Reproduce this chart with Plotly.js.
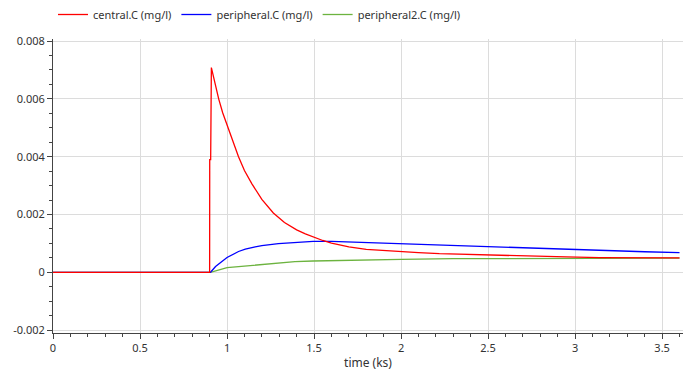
<!DOCTYPE html>
<html>
<head>
<meta charset="utf-8">
<script src="https://cdn.plot.ly/plotly-3.0.1.min.js"></script>
<style>html,body{margin:0;padding:0;background:#fff;}#chart{width:684px;height:371px;}</style>
</head>
<body>
<div id="chart"></div>
<script>
// time in ks
var centralT = [0, 0.9, 0.9005, 0.906, 0.91, 0.93, 0.952, 0.975, 1.0, 1.033, 1.066, 1.10, 1.143, 1.2, 1.266, 1.33, 1.40, 1.45, 1.5, 1.55, 1.6, 1.7, 1.8, 1.9, 2.0, 2.1, 2.22, 2.35, 2.51, 2.65, 2.79, 2.95, 3.14, 3.35, 3.6];
var centralC = [0, 0, 0.0039, 0.0039, 0.00708, 0.00655, 0.0060, 0.00552, 0.0051, 0.00452, 0.0040, 0.00352, 0.00306, 0.00252, 0.00205, 0.00172, 0.00147, 0.00133, 0.00121, 0.00110, 0.00101, 0.00088, 0.00079, 0.000745, 0.00071, 0.00068, 0.000645, 0.00062, 0.00059, 0.00057, 0.00055, 0.00053, 0.00051, 0.000505, 0.00050];

var periphT = [0, 0.905, 0.934, 0.962, 1.0, 1.066, 1.105, 1.162, 1.2, 1.295, 1.39, 1.495, 1.6, 1.8, 2.0, 2.22, 2.51, 2.75, 2.96, 3.2, 3.4, 3.6];
var periphC = [0, 0, 0.00020, 0.00033, 0.00051, 0.00072, 0.00080, 0.00088, 0.00092, 0.00099, 0.00104, 0.00107, 0.00107, 0.00103, 0.00098, 0.00094, 0.00087, 0.00082, 0.00078, 0.00074, 0.00071, 0.00068];

var periph2T = [0, 0.905, 1.0, 1.1, 1.2, 1.3, 1.39, 1.495, 1.7, 2.0, 2.3, 2.6, 3.0, 3.3, 3.6];
var periph2C = [0, 0, 0.00016, 0.00022, 0.00028, 0.00033, 0.00037, 0.00039, 0.00042, 0.00045, 0.00047, 0.00048, 0.00049, 0.00049, 0.00049];

var seriesNames = ['central.C (mg/l)', 'peripheral.C (mg/l)', 'peripheral2.C (mg/l)'];
var xTickVals = [0, 0.5, 1, 1.5, 2, 2.5, 3, 3.5];
var xTickText = ['0', '0.5', '1', '1.5', '2', '2.5', '3', '3.5'];
var yTickVals = [-0.002, 0, 0.002, 0.004, 0.006, 0.008];
var yTickText = ['-0.002', '0', '0.002', '0.004', '0.006', '0.008'];

var colors = ['#ff0000', '#0000ff', '#6cb33f'];
var traces = [
  {x: centralT, y: centralC, name: seriesNames[0]},
  {x: periphT, y: periphC, name: seriesNames[1]},
  {x: periph2T, y: periph2C, name: seriesNames[2]}
].map(function(t, i){
  t.type = 'scatter'; t.mode = 'lines';
  t.line = {color: colors[i], width: 1.3, shape: 'linear'};
  return t;
});
// draw green first so others on top like reference
traces = [traces[2], traces[1], traces[0]];

var font = {family: 'Noto Sans, Open Sans, sans-serif', size: 11, color: '#333'};
var layout = {
  width: 684, height: 371,
  margin: {l: 53, r: 1, t: 38, b: 38},
  paper_bgcolor: '#fff', plot_bgcolor: '#fff',
  font: font,
  showlegend: true,
  legend: {orientation: 'h', x: 0.0, xanchor: 'left', y: 1.13, yanchor: 'top',
           font: font, traceorder: 'reversed', itemwidth: 30},
  xaxis: {
    range: [0, 3.62], tickvals: xTickVals, ticktext: xTickText,
    showgrid: true, gridcolor: '#dcdcdc', gridwidth: 1,
    zeroline: false, showline: true, linecolor: '#444', linewidth: 1,
    ticks: 'outside', ticklen: 5, tickcolor: '#444',
    minor: {dtick: 0.1, tick0: 0, ticks: 'outside', ticklen: 3, tickcolor: '#444', showgrid: false},
    title: {text: 'time (ks)', font: {family: font.family, size: 12, color: '#333'}, standoff: 4},
    tickfont: font
  },
  yaxis: {
    range: [-0.0021, 0.00807], tickvals: yTickVals, ticktext: yTickText,
    showgrid: true, gridcolor: '#dcdcdc', gridwidth: 1,
    zeroline: false, showline: true, linecolor: '#444', linewidth: 1,
    ticks: 'outside', ticklen: 5, tickcolor: '#444',
    minor: {dtick: 0.0005, tick0: 0, ticks: 'outside', ticklen: 3, tickcolor: '#444', showgrid: false},
    tickfont: font
  }
};
Plotly.newPlot('chart', traces, layout, {displayModeBar: false, staticPlot: true});
</script>
</body>
</html>
